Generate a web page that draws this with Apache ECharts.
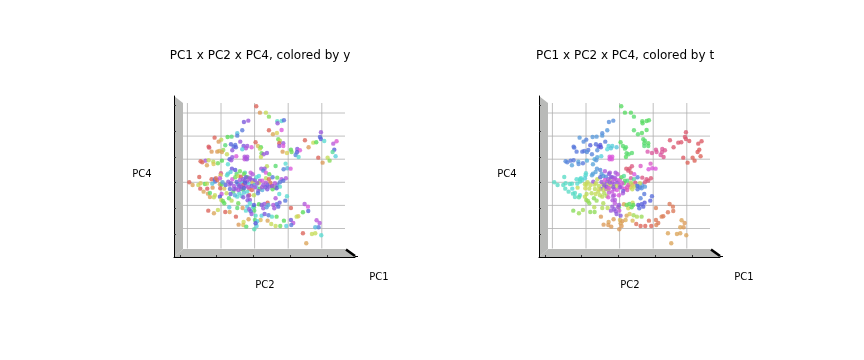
<!DOCTYPE html>
<html><head><meta charset="utf-8">
<style>html,body{margin:0;padding:0;background:#fff}#c{width:864px;height:360px}</style>
<script src="https://cdn.jsdelivr.net/npm/echarts@6/dist/echarts.min.js"></script>
</head><body><div id="c"></div>
<script>
const titles = ["PC1 x PC2 x PC4, colored by y", "PC1 x PC2 x PC4, colored by t"];
const axisNames = ["PC4", "PC2", "PC1"];
const gridX = [-2.016,-1.008,0,1.008,2.016];
const gridY = [2.079,1.386,0.693,0,-0.693,-1.386];
const tickX = [-2.24,-1.14,-0.04,1.06,2.17];
const tickY = [2.30,1.52,0.75,-0.01,-0.78,-1.55];
const pc2 = [0.05,0.16,0.34,0.43,-0.32,-0.19,0.68,0.69,0.81,0.88,-0.37,0.43,0.55,0.67,0.81,-0.52,-0.52,-0.69,-0.81,-1.20,-1.00,-0.43,-1.08,0.03,0.71,0.76,0.74,0.86,0.74,0.86,
1.51,1.99,1.96,1.99,2.09,1.76,1.85,2.46,2.36,1.62,2.39,2.34,1.91,2.19,2.43,2.25,2.04,
0.84,0.97,1.09,1.11,1.28,1.36,1.27,1.23,1.32,
-1.38,-1.36,-0.88,-0.94,-0.71,-0.58,-0.63,-0.56,-0.33,-0.22,-0.26,-0.09,-0.37,0.10,0.19,0.16,-1.29,-1.12,-1.06,-0.98,-0.83,-0.67,0.21,0.27,0.37,0.19,
-1.47,-1.38,-1.62,-1.57,-1.43,-1.24,-1.23,-1.10,-0.98,-0.80,-0.75,-0.70,-0.67,-0.55,-0.30,-0.22,-0.30,-0.23,-0.27,
0.93,0.98,0.87,1.08,0.63,0.37,0.20,0.30,0.26,0.34,0.44,-0.68,-0.58,-0.44,-0.29,-0.12,-0.06,-1.01,-1.02,-1.66,-0.80,-0.83,-0.72,-0.54,
-1.96,-1.86,-1.69,-1.62,-1.63,-1.53,-1.49,-1.43,-1.42,-1.40,-1.34,-1.19,-1.34,-1.26,-1.29,-1.19,-1.19,-1.12,-1.27,-1.16,-1.04,-1.04,-0.99,-1.03,-0.91,-0.96,-0.87,-0.75,-0.67,-0.58,-0.49,-0.41,-0.32,-0.22,-0.14,-0.09,-0.29,-0.39,-0.50,-0.46,-0.56,-0.41,-0.34,-0.22,-0.26,-0.16,-0.06,0.01,0.06,0.13,0.16,-0.01,0.06,0.13,0.23,0.34,0.43,0.54,0.68,0.81,0.94,0.86,0.47,0.52,0.61,0.68,0.76,0.76,0.38,0.32,0.38,0.16,0.23,-0.08,-0.16,-0.22,-0.34,-0.46,-0.64,-0.74,-0.84,-0.99,-1.04,-1.22,-1.00,-0.95,-0.91,-0.77,-0.69,-0.52,-0.39,-0.34,-0.21,-0.14,-0.16,-0.02,0.11,0.54,0.63,0.74,0.97,0.92,0.75,0.66,0.56,0.71,0.39,0.29,0.41,0.26,0.36,0.13,-0.02,
1.09,1.50,1.60,1.61,1.45,1.31,1.26,-1.39,-1.10,-1.22,-0.88,-0.75,-0.56,-0.48,-0.33,-0.34,-0.25,-0.36,-0.52,-0.76,-0.49,-0.18,-0.01,-0.05,-0.12,-0.09,0.03,0.01,0.21,0.30,0.42,0.52,0.66,0.18,0.39,0.50,0.63,0.77,0.95,0.88,1.09,1.16,1.10,1.86,1.95,1.92,1.82,1.45,1.72,1.82,2.00,1.55,0.08,0.06,-0.01,0.03,-0.26,
-0.79,-0.71,-0.62,-0.54,-0.44,-0.34,-0.26,-0.16,-0.09,0.01,-0.39,-0.32,-0.49,-0.62,-0.72,-0.59,-0.46,-0.19,-0.29,0.08,0.26,0.34,0.44,0.61,0.66,0.54,0.22,0.10,-0.20,-0.32,-0.14,-0.02,-0.22,-0.16,0.21,0.59];
const pc4 = [2.28,2.09,2.09,1.97,1.81,1.85,1.83,1.77,1.84,1.86,1.56,1.56,1.44,1.48,1.57,1.47,1.40,1.37,1.36,1.34,1.28,1.22,1.22,1.20,1.29,1.25,1.17,1.17,1.09,1.09,
1.26,1.50,1.36,1.30,1.24,1.19,1.20,1.23,1.16,1.05,0.98,0.91,0.74,0.74,0.78,0.65,0.59,
0.92,0.88,0.98,0.91,1.00,0.96,0.90,0.82,0.76,
1.07,1.04,1.11,0.97,1.14,1.12,1.07,1.05,1.09,1.09,1.02,1.05,0.99,1.09,1.05,1.01,0.92,0.92,0.94,0.91,0.84,0.96,0.87,0.84,0.88,0.76,
0.65,0.66,0.63,0.60,0.51,0.62,0.55,0.57,0.65,0.54,0.69,0.66,0.75,0.78,0.77,0.77,0.69,0.69,0.73,
0.56,0.42,0.39,0.41,0.49,0.48,0.41,0.41,0.35,0.29,0.24,0.41,0.37,0.33,0.29,0.29,0.24,0.27,0.21,0.16,0.26,0.21,0.31,0.25,
0.00,-0.08,-0.08,-0.03,-0.19,-0.28,-0.05,-0.04,-0.19,-0.34,-0.44,-0.39,-0.32,-0.16,0.09,0.09,0.02,0.07,-0.04,0.12,0.12,-0.06,-0.07,-0.18,-0.19,0.00,-0.08,-0.07,0.09,0.15,0.19,0.17,0.25,0.15,0.14,0.07,0.05,0.00,-0.06,-0.13,-0.19,-0.20,-0.08,0.00,-0.11,-0.06,-0.01,0.07,0.15,0.19,0.05,-0.08,-0.15,-0.03,0.05,0.12,0.09,0.15,0.14,0.09,0.12,0.05,-0.01,-0.10,-0.15,-0.08,0.00,-0.13,-0.08,-0.15,-0.21,-0.19,-0.23,-0.23,-0.20,-0.28,-0.22,-0.33,-0.28,-0.20,-0.33,-0.35,-0.43,-0.45,-0.53,-0.56,-0.63,-0.48,-0.55,-0.43,-0.41,-0.45,-0.54,-0.53,-0.39,-0.39,-0.26,-0.21,-0.48,-0.35,-0.42,-0.55,-0.61,-0.66,-0.68,-0.73,-0.61,-0.65,-0.68,-0.78,-0.75,-0.66,-0.75,
-0.77,-0.65,-0.73,-0.86,-0.90,-1.02,-1.03,-0.85,-0.83,-0.93,-0.89,-0.89,-1.03,-1.27,-1.19,-1.28,-1.33,-0.77,-0.77,-0.75,-0.63,-1.11,-0.85,-0.74,-0.87,-0.95,-1.00,-1.13,-1.00,-0.95,-0.99,-1.03,-1.03,-1.13,-1.15,-1.25,-1.31,-1.31,-1.31,-1.15,-1.13,-1.22,-1.28,-1.14,-1.22,-1.35,-1.35,-1.53,-1.55,-1.53,-1.59,-1.83,-1.17,-1.31,-1.41,-1.23,-0.85,
0.02,-0.03,-0.11,0.01,0.07,0.09,0.15,0.09,-0.11,-0.15,-0.13,-0.18,-0.23,-0.21,-0.35,-0.39,-0.09,-0.15,-0.01,-0.03,-0.08,-0.01,-0.13,-0.03,-0.18,-0.11,-0.15,-0.33,-0.41,-0.31,-0.63,-0.68,-0.73,-0.81,-0.68,-0.78];
const hueY = [5,30,70,100,255,270,170,270,175,230,225,5,35,55,300,190,220,135,120,5,70,270,30,5,110,75,5,270,270,300,
5,270,235,235,175,70,120,305,285,30,235,150,5,70,185,100,30,
30,55,120,110,260,300,240,220,175,
5,350,135,90,235,225,230,235,255,270,280,300,185,45,120,75,30,30,40,35,70,265,110,270,265,70,
275,70,5,5,35,75,50,110,120,175,235,270,265,300,280,280,290,270,280,
175,195,220,300,130,75,270,270,220,300,115,250,240,110,160,290,280,340,50,5,190,170,190,130,
5,35,70,50,5,35,120,75,355,35,35,70,130,30,5,235,225,5,190,15,290,30,120,5,50,205,235,270,300,110,70,5,110,115,270,260,270,190,205,230,270,255,5,260,270,180,50,260,175,180,270,200,190,70,300,75,5,225,110,280,280,230,15,5,70,225,225,170,235,250,260,120,200,5,15,175,130,175,135,230,70,290,240,70,70,110,120,130,75,175,175,260,260,265,5,75,260,120,280,175,175,225,250,225,280,235,5,270,200,270,210,120,120,
5,280,300,235,120,50,70,5,70,35,5,35,5,30,65,50,130,30,130,190,110,35,130,175,230,270,170,130,185,255,225,170,120,45,35,70,70,110,185,120,250,285,225,285,280,225,195,5,70,70,175,35,185,185,160,240,175,
265,260,275,235,280,265,250,275,260,280,265,235,280,265,250,200,270,285,240,270,265,280,260,285,240,270,275,225,265,190,175,240,190,265,260,270];
const hueT = [125,125,125,130,215,215,125,125,125,125,210,130,130,125,125,215,210,210,210,210,220,225,215,125,130,130,130,125,135,130,
350,350,350,350,355,350,350,355,355,350,0,0,355,5,5,5,5,
320,330,330,330,330,335,330,325,335,
225,225,235,225,230,240,240,240,185,185,190,190,180,130,130,130,225,225,225,215,220,215,130,130,130,125,
225,225,215,220,205,205,215,225,200,205,200,210,205,185,300,300,300,300,300,
310,300,300,300,310,340,350,350,345,345,300,210,215,280,280,275,285,175,175,170,205,205,205,210,
170,170,170,170,170,170,170,170,180,170,170,175,170,70,175,170,170,175,175,175,185,70,70,65,70,70,70,70,70,235,210,215,260,265,270,285,70,270,70,70,265,290,70,285,70,270,270,300,120,150,130,290,290,120,140,330,150,220,340,340,345,345,340,210,220,210,340,210,40,50,70,300,320,300,290,290,80,80,70,75,75,75,70,155,90,90,95,100,90,75,80,300,280,280,290,300,250,225,220,225,230,235,240,235,240,235,70,130,120,65,120,35,130,
20,15,15,15,15,15,20,100,85,90,95,95,30,30,35,30,30,75,80,75,80,30,290,285,270,265,260,45,35,50,85,80,90,40,45,10,5,5,5,10,15,15,20,35,30,30,35,35,35,35,35,35,30,30,30,35,270,
270,70,75,270,300,270,265,285,70,270,270,300,70,65,70,75,265,265,270,300,325,80,70,70,215,225,310,275,280,290,285,270,270,265,110,230];

const ROWS = pc2.map((x, i) => [x, pc4[i], hueY[i], hueT[i]]);
const PANEL_LEFT = [174, 539];
const hsl = h => `hsla(${h},65%,60%,0.97)`;
const lineData = (arr) => arr.map(v => [v]);

const chart = echarts.init(document.getElementById('c'), null, {renderer: 'canvas'});
const grids = [], xAxes = [], yAxes = [], series = [], graphic = [], title = [];
PANEL_LEFT.forEach((L, k) => {
  grids.push({left: L, top: 96, width: 181, height: 161});
  xAxes.push({type: 'value', gridIndex: k, min: -2.418, max: 3.012, splitLine: {show: false},
    axisLine: {show: true, onZero: false, lineStyle: {color: '#000', width: 1}},
    axisLabel: {show: false},
    axisTick: {show: true, length: 2, inside: true, customValues: tickX, lineStyle: {color: '#333', width: 1}}});
  yAxes.push({type: 'value', gridIndex: k, min: -2.241, max: 2.589, splitLine: {show: false},
    axisLine: {show: true, onZero: false, lineStyle: {color: '#000', width: 1}},
    axisLabel: {show: false},
    axisTick: {show: true, length: 2, inside: true, customValues: tickY, lineStyle: {color: '#333', width: 1}}});
  const seg = (api, a, b) => {
    const p = api.coord(a), q = api.coord(b);
    return {type: 'line', shape: {x1: p[0], y1: p[1], x2: q[0], y2: q[1]}, style: {stroke: '#b0b0b0', lineWidth: 0.8}, silent: true};
  };
  series.push({type: 'custom', xAxisIndex: k, yAxisIndex: k, z: 1, silent: true, clip: false, data: lineData(gridX),
    encode: {x: 0}, renderItem: (p, api) => seg(api, [api.value(0), -1.986], [api.value(0), 2.379])});
  series.push({type: 'custom', xAxisIndex: k, yAxisIndex: k, z: 1, silent: true, clip: false, data: lineData(gridY),
    encode: {y: 0}, renderItem: (p, api) => seg(api, [-2.148, api.value(0)], [2.712, api.value(0)])});
  series.push({type: 'scatter', xAxisIndex: k, yAxisIndex: k, z: 3, symbolSize: 4.4, silent: true,
    data: ROWS, encode: {x: 0, y: 1},
    itemStyle: {color: p => hsl(p.data[2 + k])}});
  title.push({text: titles[k], left: L + 81, top: 45, textAlign: 'center',
    textStyle: {fontFamily: 'DejaVu Sans', fontSize: 12, fontWeight: 'normal', color: '#000'}});
  const d = L - 174;
  graphic.push(
    {type: 'polygon', z: -1, silent: true, shape: {points: [[174+d,96],[183+d,103],[183+d,249],[174+d,257]]}, style: {fill: '#b9bab8'}},
    {type: 'polygon', z: -1, silent: true, shape: {points: [[174+d,257],[183+d,249],[345+d,249],[355+d,257]]}, style: {fill: '#b9bab8'}},
    {type: 'line', z: 5, silent: true, shape: {x1: 346+d, y1: 249.5, x2: 355+d, y2: 256}, style: {stroke: '#000', lineWidth: 2.6}},
    {type: 'line', z: 5, silent: true, shape: {x1: 355+d, y1: 256.5, x2: 358+d, y2: 256.5}, style: {stroke: '#000', lineWidth: 1}}
  );
  [[axisNames[0], 142, 174], [axisNames[1], 265, 285], [axisNames[2], 379, 277]].forEach(t => {
    graphic.push({type: 'text', z: 5, silent: true, x: t[1] + d, y: t[2],
      style: {text: t[0], fontFamily: 'DejaVu Sans', fontSize: 10, fill: '#000', textAlign: 'center', textVerticalAlign: 'middle'}});
  });
});
chart.setOption({animation: false, backgroundColor: '#fff', title, grid: grids, xAxis: xAxes, yAxis: yAxes, series, graphic});
</script></body></html>
